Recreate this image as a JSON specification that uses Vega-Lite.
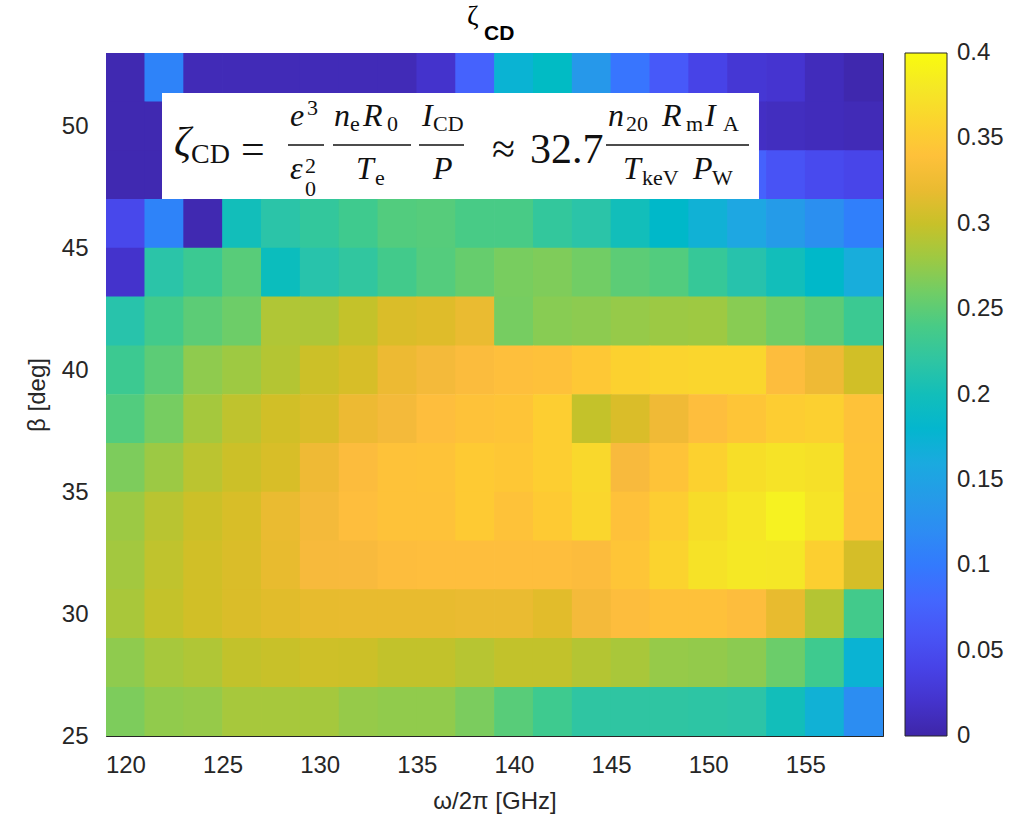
{
  "$schema": "https://vega.github.io/schema/vega-lite/v6.json",
  "width": 777,
  "height": 683,
  "padding": {"left": 25, "top": 2, "right": 5, "bottom": 2},
  "background": "white",
  "config": {
    "view": {"stroke": "#262626", "strokeWidth": 1},
    "axis": {"grid": false, "domain": false, "tickColor": "#262626", "tickWidth": 1, "tickSize": -8, "labelFont": "Liberation Sans", "labelFontSize": 24, "labelColor": "#262626", "titleFont": "Liberation Sans", "titleFontSize": 24, "titleFontWeight": "normal", "titleColor": "#262626"}
  },
  "datasets": {
    "cells": [
      {"f":120,"b":52,"z":0.005},{"f":122,"b":52,"z":0.11},{"f":124,"b":52,"z":0.008},{"f":126,"b":52,"z":0.008},{"f":128,"b":52,"z":0.008},{"f":130,"b":52,"z":0.008},{"f":132,"b":52,"z":0.008},{"f":134,"b":52,"z":0.008},{"f":136,"b":52,"z":0.02},{"f":138,"b":52,"z":0.075},{"f":140,"b":52,"z":0.175},{"f":142,"b":52,"z":0.19},{"f":144,"b":52,"z":0.135},{"f":146,"b":52,"z":0.095},{"f":148,"b":52,"z":0.065},{"f":150,"b":52,"z":0.04},{"f":152,"b":52,"z":0.025},{"f":154,"b":52,"z":0.022},{"f":156,"b":52,"z":0.01},{"f":158,"b":52,"z":0.003},
      {"f":120,"b":50,"z":0.005},{"f":122,"b":50,"z":0.005},{"f":124,"b":50,"z":0.008},{"f":126,"b":50,"z":0.008},{"f":128,"b":50,"z":0.008},{"f":130,"b":50,"z":0.01},{"f":132,"b":50,"z":0.01},{"f":134,"b":50,"z":0.012},{"f":136,"b":50,"z":0.02},{"f":138,"b":50,"z":0.03},{"f":140,"b":50,"z":0.05},{"f":142,"b":50,"z":0.05},{"f":144,"b":50,"z":0.04},{"f":146,"b":50,"z":0.03},{"f":148,"b":50,"z":0.025},{"f":150,"b":50,"z":0.02},{"f":152,"b":50,"z":0.015},{"f":154,"b":50,"z":0.012},{"f":156,"b":50,"z":0.01},{"f":158,"b":50,"z":0.008},
      {"f":120,"b":48,"z":0.005},{"f":122,"b":48,"z":0.005},{"f":124,"b":48,"z":0.01},{"f":126,"b":48,"z":0.05},{"f":128,"b":48,"z":0.08},{"f":130,"b":48,"z":0.1},{"f":132,"b":48,"z":0.1},{"f":134,"b":48,"z":0.1},{"f":136,"b":48,"z":0.1},{"f":138,"b":48,"z":0.12},{"f":140,"b":48,"z":0.14},{"f":142,"b":48,"z":0.14},{"f":144,"b":48,"z":0.12},{"f":146,"b":48,"z":0.1},{"f":148,"b":48,"z":0.09},{"f":150,"b":48,"z":0.08},{"f":152,"b":48,"z":0.075},{"f":154,"b":48,"z":0.058},{"f":156,"b":48,"z":0.048},{"f":158,"b":48,"z":0.042},
      {"f":120,"b":46,"z":0.045},{"f":122,"b":46,"z":0.11},{"f":124,"b":46,"z":0.005},{"f":126,"b":46,"z":0.2},{"f":128,"b":46,"z":0.215},{"f":130,"b":46,"z":0.225},{"f":132,"b":46,"z":0.235},{"f":134,"b":46,"z":0.245},{"f":136,"b":46,"z":0.247},{"f":138,"b":46,"z":0.24},{"f":140,"b":46,"z":0.24},{"f":142,"b":46,"z":0.225},{"f":144,"b":46,"z":0.215},{"f":146,"b":46,"z":0.2},{"f":148,"b":46,"z":0.185},{"f":150,"b":46,"z":0.172},{"f":152,"b":46,"z":0.155},{"f":154,"b":46,"z":0.14},{"f":156,"b":46,"z":0.125},{"f":158,"b":46,"z":0.105},
      {"f":120,"b":44,"z":0.02},{"f":122,"b":44,"z":0.215},{"f":124,"b":44,"z":0.232},{"f":126,"b":44,"z":0.248},{"f":128,"b":44,"z":0.197},{"f":130,"b":44,"z":0.213},{"f":132,"b":44,"z":0.222},{"f":134,"b":44,"z":0.237},{"f":136,"b":44,"z":0.246},{"f":138,"b":44,"z":0.255},{"f":140,"b":44,"z":0.263},{"f":142,"b":44,"z":0.266},{"f":144,"b":44,"z":0.26},{"f":146,"b":44,"z":0.25},{"f":148,"b":44,"z":0.245},{"f":150,"b":44,"z":0.228},{"f":152,"b":44,"z":0.212},{"f":154,"b":44,"z":0.2},{"f":156,"b":44,"z":0.185},{"f":158,"b":44,"z":0.165},
      {"f":120,"b":42,"z":0.213},{"f":122,"b":42,"z":0.237},{"f":124,"b":42,"z":0.25},{"f":126,"b":42,"z":0.258},{"f":128,"b":42,"z":0.288},{"f":130,"b":42,"z":0.287},{"f":132,"b":42,"z":0.298},{"f":134,"b":42,"z":0.31},{"f":136,"b":42,"z":0.313},{"f":138,"b":42,"z":0.32},{"f":140,"b":42,"z":0.262},{"f":142,"b":42,"z":0.27},{"f":144,"b":42,"z":0.272},{"f":146,"b":42,"z":0.276},{"f":148,"b":42,"z":0.279},{"f":150,"b":42,"z":0.28},{"f":152,"b":42,"z":0.27},{"f":154,"b":42,"z":0.26},{"f":156,"b":42,"z":0.25},{"f":158,"b":42,"z":0.232},
      {"f":120,"b":40,"z":0.233},{"f":122,"b":40,"z":0.25},{"f":124,"b":40,"z":0.273},{"f":126,"b":40,"z":0.28},{"f":128,"b":40,"z":0.29},{"f":130,"b":40,"z":0.302},{"f":132,"b":40,"z":0.308},{"f":134,"b":40,"z":0.322},{"f":136,"b":40,"z":0.327},{"f":138,"b":40,"z":0.333},{"f":140,"b":40,"z":0.338},{"f":142,"b":40,"z":0.34},{"f":144,"b":40,"z":0.348},{"f":146,"b":40,"z":0.357},{"f":148,"b":40,"z":0.36},{"f":150,"b":40,"z":0.362},{"f":152,"b":40,"z":0.362},{"f":154,"b":40,"z":0.335},{"f":156,"b":40,"z":0.323},{"f":158,"b":40,"z":0.305},
      {"f":120,"b":38,"z":0.245},{"f":122,"b":38,"z":0.262},{"f":124,"b":38,"z":0.283},{"f":126,"b":38,"z":0.295},{"f":128,"b":38,"z":0.305},{"f":130,"b":38,"z":0.31},{"f":132,"b":38,"z":0.322},{"f":134,"b":38,"z":0.327},{"f":136,"b":38,"z":0.336},{"f":138,"b":38,"z":0.342},{"f":140,"b":38,"z":0.344},{"f":142,"b":38,"z":0.354},{"f":144,"b":38,"z":0.298},{"f":146,"b":38,"z":0.31},{"f":148,"b":38,"z":0.324},{"f":150,"b":38,"z":0.336},{"f":152,"b":38,"z":0.345},{"f":154,"b":38,"z":0.353},{"f":156,"b":38,"z":0.356},{"f":158,"b":38,"z":0.342},
      {"f":120,"b":36,"z":0.265},{"f":122,"b":36,"z":0.279},{"f":124,"b":36,"z":0.293},{"f":126,"b":36,"z":0.302},{"f":128,"b":36,"z":0.309},{"f":130,"b":36,"z":0.323},{"f":132,"b":36,"z":0.334},{"f":134,"b":36,"z":0.342},{"f":136,"b":36,"z":0.343},{"f":138,"b":36,"z":0.35},{"f":140,"b":36,"z":0.347},{"f":142,"b":36,"z":0.354},{"f":144,"b":36,"z":0.364},{"f":146,"b":36,"z":0.33},{"f":148,"b":36,"z":0.343},{"f":150,"b":36,"z":0.357},{"f":152,"b":36,"z":0.37},{"f":154,"b":36,"z":0.375},{"f":156,"b":36,"z":0.372},{"f":158,"b":36,"z":0.343},
      {"f":120,"b":34,"z":0.279},{"f":122,"b":34,"z":0.292},{"f":124,"b":34,"z":0.302},{"f":126,"b":34,"z":0.309},{"f":128,"b":34,"z":0.32},{"f":130,"b":34,"z":0.327},{"f":132,"b":34,"z":0.337},{"f":134,"b":34,"z":0.342},{"f":136,"b":34,"z":0.342},{"f":138,"b":34,"z":0.35},{"f":140,"b":34,"z":0.342},{"f":142,"b":34,"z":0.35},{"f":144,"b":34,"z":0.362},{"f":146,"b":34,"z":0.34},{"f":148,"b":34,"z":0.353},{"f":150,"b":34,"z":0.368},{"f":152,"b":34,"z":0.378},{"f":154,"b":34,"z":0.39},{"f":156,"b":34,"z":0.376},{"f":158,"b":34,"z":0.342},
      {"f":120,"b":32,"z":0.282},{"f":122,"b":32,"z":0.296},{"f":124,"b":32,"z":0.305},{"f":126,"b":32,"z":0.31},{"f":128,"b":32,"z":0.319},{"f":130,"b":32,"z":0.329},{"f":132,"b":32,"z":0.33},{"f":134,"b":32,"z":0.335},{"f":136,"b":32,"z":0.337},{"f":138,"b":32,"z":0.337},{"f":140,"b":32,"z":0.337},{"f":142,"b":32,"z":0.337},{"f":144,"b":32,"z":0.334},{"f":146,"b":32,"z":0.345},{"f":148,"b":32,"z":0.359},{"f":150,"b":32,"z":0.374},{"f":152,"b":32,"z":0.38},{"f":154,"b":32,"z":0.379},{"f":156,"b":32,"z":0.355},{"f":158,"b":32,"z":0.307},
      {"f":120,"b":30,"z":0.285},{"f":122,"b":30,"z":0.298},{"f":124,"b":30,"z":0.305},{"f":126,"b":30,"z":0.31},{"f":128,"b":30,"z":0.314},{"f":130,"b":30,"z":0.318},{"f":132,"b":30,"z":0.319},{"f":134,"b":30,"z":0.319},{"f":136,"b":30,"z":0.319},{"f":138,"b":30,"z":0.32},{"f":140,"b":30,"z":0.32},{"f":142,"b":30,"z":0.315},{"f":144,"b":30,"z":0.327},{"f":146,"b":30,"z":0.335},{"f":148,"b":30,"z":0.34},{"f":150,"b":30,"z":0.34},{"f":152,"b":30,"z":0.335},{"f":154,"b":30,"z":0.319},{"f":156,"b":30,"z":0.29},{"f":158,"b":30,"z":0.237},
      {"f":120,"b":28,"z":0.273},{"f":122,"b":28,"z":0.284},{"f":124,"b":28,"z":0.288},{"f":126,"b":28,"z":0.297},{"f":128,"b":28,"z":0.3},{"f":130,"b":28,"z":0.303},{"f":132,"b":28,"z":0.302},{"f":134,"b":28,"z":0.297},{"f":136,"b":28,"z":0.297},{"f":138,"b":28,"z":0.291},{"f":140,"b":28,"z":0.297},{"f":142,"b":28,"z":0.297},{"f":144,"b":28,"z":0.29},{"f":146,"b":28,"z":0.285},{"f":148,"b":28,"z":0.276},{"f":150,"b":28,"z":0.275},{"f":152,"b":28,"z":0.271},{"f":154,"b":28,"z":0.257},{"f":156,"b":28,"z":0.234},{"f":158,"b":28,"z":0.175},
      {"f":120,"b":26,"z":0.265},{"f":122,"b":26,"z":0.274},{"f":124,"b":26,"z":0.276},{"f":126,"b":26,"z":0.284},{"f":128,"b":26,"z":0.284},{"f":130,"b":26,"z":0.283},{"f":132,"b":26,"z":0.276},{"f":134,"b":26,"z":0.274},{"f":136,"b":26,"z":0.274},{"f":138,"b":26,"z":0.264},{"f":140,"b":26,"z":0.248},{"f":142,"b":26,"z":0.234},{"f":144,"b":26,"z":0.22},{"f":146,"b":26,"z":0.22},{"f":148,"b":26,"z":0.22},{"f":150,"b":26,"z":0.218},{"f":152,"b":26,"z":0.216},{"f":154,"b":26,"z":0.2},{"f":156,"b":26,"z":0.172},{"f":158,"b":26,"z":0.122}
    ]
  },
  "resolve": {"axis": {"x": "independent", "y": "independent"}},
  "layer": [
    {
      "data": {"name": "cells"},
      "mark": {"type": "rect", "width": 39.6, "height": 49.4, "clip": true},
      "encoding": {
        "x": {"field": "f", "type": "quantitative", "scale": {"domain": [119, 159], "nice": false, "zero": false},
              "axis": {"orient": "bottom", "values": [120,125,130,135,140,145,150,155], "format": "d", "labelPadding": 25, "title": "ω/2π [GHz]", "titlePadding": 12}},
        "y": {"field": "b", "type": "quantitative", "scale": {"domain": [25, 53], "nice": false, "zero": false},
              "axis": {"orient": "left", "values": [25,30,35,40,45,50], "labelPadding": 26, "title": "β [deg]", "titlePadding": 12}},
        "color": {"field": "z", "type": "quantitative",
          "scale": {
            "domain": [0,0.006349,0.012698,0.019048,0.025397,0.031746,0.038095,0.044444,0.050794,0.057143,0.063492,0.069841,0.07619,0.08254,0.088889,0.095238,0.101587,0.107937,0.114286,0.120635,0.126984,0.133333,0.139683,0.146032,0.152381,0.15873,0.165079,0.171429,0.177778,0.184127,0.190476,0.196825,0.203175,0.209524,0.215873,0.222222,0.228571,0.234921,0.24127,0.247619,0.253968,0.260317,0.266667,0.273016,0.279365,0.285714,0.292063,0.298413,0.304762,0.311111,0.31746,0.32381,0.330159,0.336508,0.342857,0.349206,0.355556,0.361905,0.368254,0.374603,0.380952,0.387302,0.393651,0.4],
            "range": ["#3E26A8","#402AB4","#422EC0","#4432CB","#4537D5","#463CDE","#4741E5","#4847EB","#484DF0","#4852F4","#4758F8","#465EFB","#4563FD","#4269FE","#3E6FFF","#3875FE","#327CFC","#2F81FA","#2E87F7","#2D8CF3","#2B91EF","#2797EB","#259BE8","#23A0E5","#20A5E3","#1CA9E0","#18ADDB","#12B1D6","#08B5D0","#01B8CA","#02BBC3","#0BBDBD","#19BFB6","#24C1AF","#2CC4A7","#31C69F","#37C897","#3FCA8E","#4ACB84","#57CC7A","#64CD6F","#72CD64","#81CC59","#8FCB4E","#9DC943","#ABC739","#B9C431","#C5C22A","#D1BF27","#DCBD29","#E6BB2D","#F0BA36","#F8BA3D","#FEBE3D","#FEC338","#FEC934","#FCD030","#FAD62D","#F7DC29","#F6E327","#F5E925","#F6EF23","#F7F51E","#F9FB0E"]
          },
          "legend": {"title": null, "orient": "right", "offset": 21, "padding": 0, "direction": "vertical", "gradientLength": 683, "gradientThickness": 42, "gradientStrokeColor": "#262626", "gradientStrokeWidth": 1, "values": [0,0.05,0.1,0.15,0.2,0.25,0.3,0.35,0.4], "format": ".2~f", "labelFont": "Liberation Sans", "labelFontSize": 24, "labelColor": "#262626", "labelOffset": 10, "labelBaseline": "middle", "labelOverlap": false,
            "encoding": {"labels": {"baseline": {"value": "middle"}}}}
        }
      }
    },
    {
      "data": {"values": [{"x0": 121.883, "x1": 152.616, "y0": 47.016, "y1": 51.361}]},
      "mark": {"type": "rect", "color": "white", "opacity": 1},
      "encoding": {
        "x": {"field": "x0", "type": "quantitative", "scale": {"domain": [119, 159], "nice": false, "zero": false},
              "axis": {"orient": "top", "labels": false, "title": null, "values": [120,125,130,135,140,145,150,155]}},
        "x2": {"field": "x1"},
        "y": {"field": "y0", "type": "quantitative", "scale": {"domain": [25, 53], "nice": false, "zero": false},
              "axis": {"orient": "right", "labels": false, "title": null, "values": [25,30,35,40,45,50]}},
        "y2": {"field": "y1"}
      }
    },
    {
      "data": {"values": [
        {"x0": 128.369, "x1": 130.223, "y0": 49.23},
        {"x0": 130.686, "x1": 134.702, "y0": 49.23},
        {"x0": 135.113, "x1": 137.43, "y0": 49.23},
        {"x0": 144.74, "x1": 152.102, "y0": 49.23}
      ]},
      "mark": {"type": "rule", "color": "#111111", "strokeWidth": 1.6},
      "encoding": {
        "x": {"field": "x0", "type": "quantitative", "scale": {"domain": [119, 159], "nice": false, "zero": false}, "axis": null},
        "x2": {"field": "x1"},
        "y": {"field": "y0", "type": "quantitative", "scale": {"domain": [25, 53], "nice": false, "zero": false}, "axis": null}
      }
    },
    {
      "data": {"values": [{"t": "ζ", "ex": 122.5, "ey": 48.78}]},
      "mark": {"type": "text", "font": "Liberation Serif", "fontStyle": "italic", "fontSize": 42, "align": "left", "baseline": "alphabetic", "color": "#111111"},
      "encoding": {
        "x": {"field": "ex", "type": "quantitative", "scale": {"domain": [119, 159], "nice": false, "zero": false}, "axis": null},
        "y": {"field": "ey", "type": "quantitative", "scale": {"domain": [25, 53], "nice": false, "zero": false}, "axis": null},
        "text": {"field": "t"}
      }
    },
    {
      "data": {"values": [{"t": "=", "ex": 125.95, "ey": 48.492}, {"t": "≈", "ex": 138.871, "ey": 48.492}, {"t": "32.7", "ex": 140.828, "ey": 48.492}]},
      "mark": {"type": "text", "font": "Liberation Serif", "fontSize": 42, "align": "left", "baseline": "alphabetic", "color": "#111111"},
      "encoding": {
        "x": {"field": "ex", "type": "quantitative", "scale": {"domain": [119, 159], "nice": false, "zero": false}, "axis": null},
        "y": {"field": "ey", "type": "quantitative", "scale": {"domain": [25, 53], "nice": false, "zero": false}, "axis": null},
        "text": {"field": "t"}
      }
    },
    {
      "data": {"values": [{"t": "CD", "ex": 123.376, "ey": 48.492}]},
      "mark": {"type": "text", "font": "Liberation Serif", "fontSize": 28, "align": "left", "baseline": "alphabetic", "color": "#111111"},
      "encoding": {
        "x": {"field": "ex", "type": "quantitative", "scale": {"domain": [119, 159], "nice": false, "zero": false}, "axis": null},
        "y": {"field": "ey", "type": "quantitative", "scale": {"domain": [25, 53], "nice": false, "zero": false}, "axis": null},
        "text": {"field": "t"}
      }
    },
    {
      "data": {"values": [
        {"t": "e", "ex": 128.472, "ey": 50.008},
        {"t": "ε", "ex": 128.472, "ey": 47.836},
        {"t": "n", "ex": 130.737, "ey": 50.008},
        {"t": "R", "ex": 132.23, "ey": 50.008},
        {"t": "T", "ex": 131.87, "ey": 47.836},
        {"t": "I", "ex": 135.268, "ey": 50.008},
        {"t": "P", "ex": 135.834, "ey": 47.836},
        {"t": "n", "ex": 144.843, "ey": 50.008},
        {"t": "R", "ex": 147.623, "ey": 50.008},
        {"t": "I", "ex": 149.837, "ey": 50.008},
        {"t": "T", "ex": 145.615, "ey": 47.836},
        {"t": "P", "ex": 149.219, "ey": 47.836}
      ]},
      "mark": {"type": "text", "font": "Liberation Serif", "fontStyle": "italic", "fontSize": 32, "align": "left", "baseline": "alphabetic", "color": "#111111"},
      "encoding": {
        "x": {"field": "ex", "type": "quantitative", "scale": {"domain": [119, 159], "nice": false, "zero": false}, "axis": null},
        "y": {"field": "ey", "type": "quantitative", "scale": {"domain": [25, 53], "nice": false, "zero": false}, "axis": null},
        "text": {"field": "t"}
      }
    },
    {
      "data": {"values": [
        {"t": "3", "ex": 129.347, "ey": 50.459},
        {"t": "0", "ex": 129.245, "ey": 47.139},
        {"t": "2", "ex": 129.245, "ey": 48.082},
        {"t": "e", "ex": 131.561, "ey": 49.803},
        {"t": "0", "ex": 133.466, "ey": 49.803},
        {"t": "e", "ex": 132.848, "ey": 47.59},
        {"t": "CD", "ex": 135.834, "ey": 49.803},
        {"t": "20", "ex": 145.77, "ey": 49.803},
        {"t": "m", "ex": 148.859, "ey": 49.803},
        {"t": "A", "ex": 150.763, "ey": 49.803},
        {"t": "keV", "ex": 146.593, "ey": 47.59},
        {"t": "W", "ex": 150.197, "ey": 47.59}
      ]},
      "mark": {"type": "text", "font": "Liberation Serif", "fontSize": 22, "align": "left", "baseline": "alphabetic", "color": "#111111"},
      "encoding": {
        "x": {"field": "ex", "type": "quantitative", "scale": {"domain": [119, 159], "nice": false, "zero": false}, "axis": null},
        "y": {"field": "ey", "type": "quantitative", "scale": {"domain": [25, 53], "nice": false, "zero": false}, "axis": null},
        "text": {"field": "t"}
      }
    },
    {
      "data": {"values": [{"t": "ζ", "ex": 137.584, "ey": 54.148}]},
      "mark": {"type": "text", "font": "Liberation Serif", "fontSize": 28, "align": "left", "baseline": "alphabetic", "color": "#000000"},
      "encoding": {
        "x": {"field": "ex", "type": "quantitative", "scale": {"domain": [119, 159], "nice": false, "zero": false}, "axis": null},
        "y": {"field": "ey", "type": "quantitative", "scale": {"domain": [25, 53], "nice": false, "zero": false}, "axis": null},
        "text": {"field": "t"}
      }
    },
    {
      "data": {"values": [{"t": "CD", "ex": 138.459, "ey": 53.533}]},
      "mark": {"type": "text", "font": "Liberation Sans", "fontWeight": "bold", "fontSize": 21, "align": "left", "baseline": "alphabetic", "color": "#000000"},
      "encoding": {
        "x": {"field": "ex", "type": "quantitative", "scale": {"domain": [119, 159], "nice": false, "zero": false}, "axis": null},
        "y": {"field": "ey", "type": "quantitative", "scale": {"domain": [25, 53], "nice": false, "zero": false}, "axis": null},
        "text": {"field": "t"}
      }
    }
  ]
}
